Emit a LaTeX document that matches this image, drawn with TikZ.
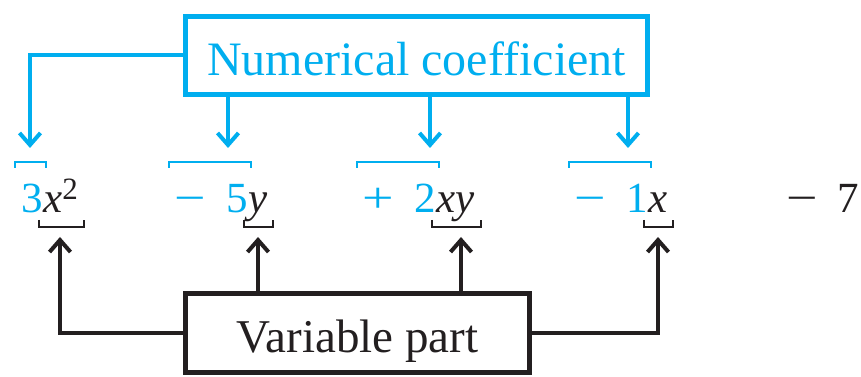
\documentclass[tikz,border=0pt]{standalone}
\usepackage{fontspec}
\setmainfont{Liberation Serif}
\usetikzlibrary{arrows.meta,calc}
\definecolor{cyanink}{HTML}{00AEEF}
\definecolor{ink}{HTML}{231F20}
\tikzset{
  every node/.style={inner sep=0pt,text=ink},
  term/.style={font=\fontsize{43}{43}\selectfont,anchor=base},
  coef/.style={term,text=cyanink,anchor=base east},
  vars/.style={term,anchor=base west},
  labelbox/.style={text height=40pt,text depth=0pt,line width=5pt},
  coefbox/.style={labelbox,draw=cyanink,text=cyanink,font=\fontsize{48}{50}\selectfont,minimum width=462pt,minimum height=78pt},
  varbox/.style={labelbox,draw=ink,font=\fontsize{47}{50}\selectfont,minimum width=344pt,minimum height=79pt},
  coefarrow/.style={-{Straight Barb[length=12pt,width=21pt]},line width=4pt,draw=cyanink},
  vararrow/.style={-{Straight Barb[length=12pt,width=21pt]},line width=4pt,draw=ink},
  coefbrace/.style={line width=2pt,draw=cyanink},
  varbrace/.style={line width=2pt,draw=ink},
}
\newcommand{\wideop}[1]{\scalebox{1.3}[1]{#1}}

\begin{document}
\begin{tikzpicture}[x=1pt,y=1pt]
\useasboundingbox (0,0) rectangle (861,377);
% the two labels
\node[coefbox] (numcoef) at (416.5,321.5) {Numerical coefficient};
\node[varbox] (varpart) at (357.5,44) {Variable part};
% terms of the polynomial, split into coefficient and variables
\node[coef] (c1) at (43,164) {3};
\node[vars] (v1) at (43,164) {\itshape x\raisebox{13pt}{\fontsize{31}{31}\selectfont\upshape 2}};
\node[coef] (c2) at (248,164) {\wideop{−}\hspace{20pt}5};
\node[vars] (v2) at (248,164) {\itshape y};
\node[coef] (c3) at (436,164) {\wideop{+}\hspace{20pt}2};
\node[vars] (v3) at (436,164) {\itshape xy};
\node[coef] (c4) at (648,164) {\wideop{−}\hspace{20pt}1};
\node[vars] (v4) at (648,164) {\itshape x};
\node[term,anchor=base west] (const) at (786,164) {\wideop{−}\hspace{20pt}7};
% brackets over coefficients, under variables
\foreach \i in {1,...,4}{
  \draw[coefbrace] ($(c\i.west |- 0,209)+(-6,0)$) -- ++(0,6) -| ($(c\i.east |- 0,209)+(3,0)$);
  \draw[varbrace] ($(v\i.west |- 0,157)+(-4,0)$) -- ++(0,-7) -| ($(v\i.east |- 0,157)+(6,0)$);
}
% arrow ends
\coordinate (a1) at (30,229);
\coordinate (a2) at (228,229);
\coordinate (a3) at (430,229);
\coordinate (a4) at (628,229);
\coordinate (b1) at (60,140);
\coordinate (b2) at (258,140);
\coordinate (b3) at (461,140);
\coordinate (b4) at (658,140);
\draw[coefarrow] (numcoef.west) -| (a1);
\foreach \i in {2,3,4}
  \draw[coefarrow] (numcoef.south -| a\i) -- (a\i);
\draw[vararrow] (varpart.west) -| (b1);
\draw[vararrow] (varpart.east) -| (b4);
\foreach \i in {2,3}
  \draw[vararrow] (varpart.north -| b\i) -- (b\i);
\end{tikzpicture}
\end{document}
